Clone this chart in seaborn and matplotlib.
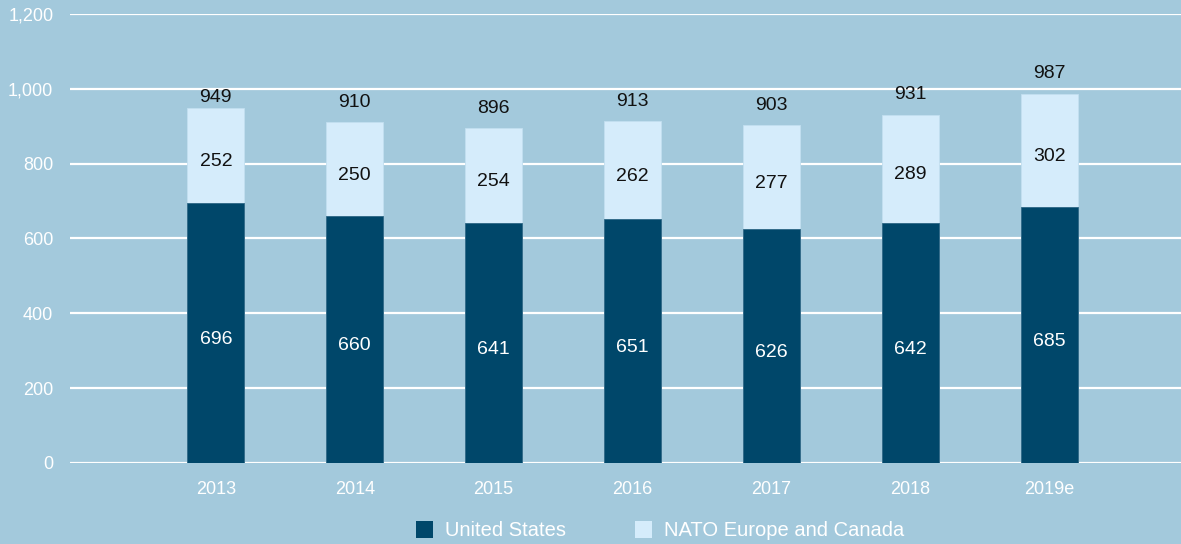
import matplotlib
matplotlib.use("Agg")
import matplotlib.pyplot as plt
from matplotlib.patches import Patch
from matplotlib.ticker import FuncFormatter
import seaborn as sns
import pandas as pd

years = ["2013", "2014", "2015", "2016", "2017", "2018", "2019e"]
united_states = [696, 660, 641, 651, 626, 642, 685]
europe_canada = [252, 250, 254, 262, 277, 289, 302]
totals = [949, 910, 896, 913, 903, 931, 987]

BG = "#a3c9dc"
DARK = "#00476a"
LIGHT = "#d5ecfb"

sns.set_theme(style="white")
plt.rcParams["font.family"] = ["Liberation Sans", "DejaVu Sans"]

df = pd.DataFrame({
    "year": years,
    "us": united_states,
    "eu": europe_canada,
    "total": totals,
})
df["stack_top"] = df["us"] + df["eu"]

fig = plt.figure(figsize=(11.81, 5.44), dpi=100, facecolor=BG)
ax = fig.add_axes([0.0593, 0.1489, 0.9407, 0.8254])
ax.set_facecolor(BG)

# light segment drawn full height, dark segment overlaid from zero
sns.barplot(data=df, x="year", y="stack_top", order=years, color=LIGHT,
            width=0.41, saturation=1, edgecolor="#c2dff0", linewidth=0.6,
            ax=ax, zorder=3)
sns.barplot(data=df, x="year", y="us", order=years, color=DARK,
            width=0.41, saturation=1, edgecolor="#2d6685", linewidth=0.6,
            ax=ax, zorder=4)

grid_values = list(range(0, 1201, 200))


def value_label(x, y, text, color, dy=-4.5):
    ax.annotate(text, (x, y), xytext=(0, dy), textcoords="offset points",
                ha="center", va="center", color=color, fontsize=14, zorder=5)


for i, (us, eu, tot) in enumerate(zip(united_states, europe_canada, totals)):
    value_label(i, us / 2, f"{us}", "white")
    value_label(i, us + eu / 2, f"{eu}", "#111111")
    # total sits above the bar; keep it off a gridline by tucking it closer
    label_y = us + eu + 53
    if any(abs(label_y - g) < 14 for g in grid_values):
        label_y = us + eu + 29
    value_label(i, label_y, f"{tot}", "#111111", dy=0)

ax.set_ylim(0, 1200)
ax.set_xlim(-1.05, 6.95)
ax.set_yticks(grid_values)
ax.yaxis.set_major_formatter(FuncFormatter(lambda v, p: f"{int(v):,}"))
ax.grid(axis="y", color="white", linewidth=1.6, zorder=0)
ax.grid(axis="x", visible=False)
ax.set_axisbelow(True)
for s in ax.spines.values():
    s.set_visible(False)
ax.tick_params(axis="both", length=0, colors="white", labelsize=13)
ax.tick_params(axis="x", pad=13)
ax.tick_params(axis="y", pad=12)
ax.set_xlabel("")
ax.set_ylabel("")

handles = [Patch(facecolor=DARK, edgecolor="none", label="United States"),
           Patch(facecolor=LIGHT, edgecolor="none", label="NATO Europe and Canada")]
leg = fig.legend(handles=handles, loc="center", bbox_to_anchor=(0.559, 0.024),
                 ncol=2, frameon=False, fontsize=14.5, handlelength=0.85,
                 handleheight=0.85, handletextpad=0.6, columnspacing=3.4)
for t in leg.get_texts():
    t.set_color("white")

fig.savefig("out.png", dpi=100, facecolor=BG)
